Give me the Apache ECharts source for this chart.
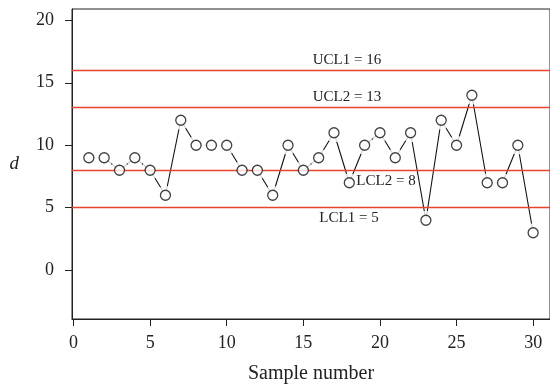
<!DOCTYPE html>
<html>
<head>
<meta charset="utf-8">
<script src="https://cdn.jsdelivr.net/npm/echarts@6/dist/echarts.min.js"></script>
<style>
  html, body { margin: 0; padding: 0; background: #fff; }
  #main { width: 550px; height: 389px; }
</style>
</head>
<body>
<div id="main"></div>
<script>
// 数据
var samples = [1,2,3,4,5,6,7,8,9,10,11,12,13,14,15,16,17,18,19,20,21,22,23,24,25,26,27,28,29,30];
var dValues = [9,9,8,9,8,6,12,10,10,10,8,8,6,10,8,9,11,7,10,11,9,11,4,12,10,14,7,7,10,3];
var limitNames = ['UCL1', 'UCL2', 'LCL2', 'LCL1'];
var limitValues = [16, 13, 8, 5];
var xTicks = [0, 5, 10, 15, 20, 25, 30];
var yTicks = [0, 5, 10, 15, 20];

var font = 'Liberation Serif';
var red = '#e8432b';

var points = samples.map(function (s, i) { return [s, dValues[i]]; });

// 标签位置: 上方/下方, 水平偏移
var labelPos = ['insideMiddleTop', 'insideMiddleTop', 'insideMiddleBottom', 'insideMiddleBottom'];
var labelShift = [36, 36, 75, 38];

var markData = limitValues.map(function (v, i) {
  var sh = labelShift[i];
  return {
    yAxis: v,
    label: {
      show: true,
      position: labelPos[i],
      formatter: limitNames[i] + ' = ' + v,
      padding: [0, 0, 0, sh * 2]
    }
  };
});

var myChart = echarts.init(document.getElementById('main'));
var option = {
  animation: false,
  grid: {
    left: 72,
    right: -2,
    top: 9,
    bottom: 70,
    show: true,
    borderColor: '#222',
    borderWidth: 1
  },
  xAxis: {
    type: 'value',
    min: -0.1,
    max: 31.1,
    name: 'Sample number',
    nameLocation: 'middle',
    nameGap: 45,
    nameTextStyle: { fontFamily: font, fontSize: 20, color: '#222' },
    axisLine: { show: true, onZero: false, lineStyle: { color: '#222', width: 1 } },
    axisTick: { show: true, length: 7, customValues: xTicks, lineStyle: { color: '#222' } },
    axisLabel: { customValues: xTicks, margin: 15, fontFamily: font, fontSize: 18, color: '#222' },
    splitLine: { show: false }
  },
  yAxis: {
    type: 'value',
    min: -3.9,
    max: 20.9,
    name: 'd',
    nameLocation: 'middle',
    nameRotate: 0,
    nameGap: 53,
    nameTextStyle: { fontFamily: font, fontSize: 19, fontStyle: 'italic', color: '#222' },
    axisLine: { show: true, onZero: false, lineStyle: { color: '#222', width: 1 } },
    axisTick: { show: true, length: 7, customValues: yTicks, lineStyle: { color: '#222' } },
    axisLabel: { customValues: yTicks, margin: 18, fontFamily: font, fontSize: 18, color: '#222' },
    splitLine: { show: false }
  },
  series: [
    {
      type: 'line',
      z: 2,
      data: points,
      showSymbol: false,
      symbol: 'none',
      lineStyle: { color: '#111', width: 1.1 }
    },
    {
      // 圆圈周围的白色留白
      type: 'scatter',
      z: 3,
      data: points,
      symbol: 'circle',
      symbolSize: 19,
      itemStyle: { color: '#fff' },
      silent: true
    },
    {
      // 控制限
      type: 'line',
      z: 4,
      data: [],
      markLine: {
        silent: true,
        symbol: 'none',
        lineStyle: { color: red, width: 1.4, type: 'solid' },
        label: { fontFamily: font, fontSize: 15, color: '#222', distance: 3 },
        data: markData
      }
    },
    {
      type: 'scatter',
      z: 5,
      data: points,
      symbol: 'circle',
      symbolSize: 10,
      itemStyle: { color: '#fff', borderColor: '#111', borderWidth: 1.3 }
    }
  ]
};
myChart.setOption(option);
</script>
</body>
</html>
